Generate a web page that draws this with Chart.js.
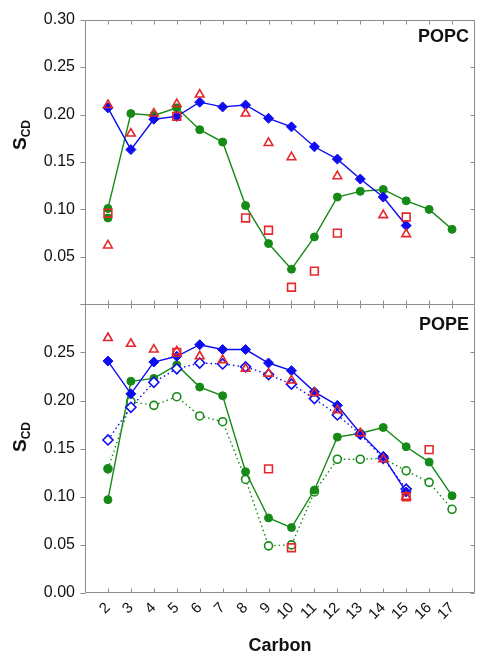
<!DOCTYPE html>
<html>
<head>
<meta charset="utf-8">
<script src="https://cdn.jsdelivr.net/npm/chart.js@4.4.0/dist/chart.umd.min.js"></script>
<style>
  html, body { margin: 0; padding: 0; background: #fff; }
  #wrap { width: 487px; height: 663px; }
</style>
</head>
<body>
<div id="wrap"><canvas id="chart" width="487" height="663"></canvas></div>
<script>
// Carbon positions along the acyl chain
const carbons = [2, 3, 4, 5, 6, 7, 8, 9, 10, 11, 12, 13, 14, 15, 16, 17];

// POPC panel
const popcBlue = [0.207, 0.163, 0.195, 0.198, 0.213, 0.208, 0.210, 0.196, 0.187, 0.166, 0.153, 0.132, 0.113, 0.083, null, null];
const popcGreen = [0.101, 0.201, 0.199, 0.207, 0.184, 0.171, 0.104, 0.064, 0.037, 0.071, 0.113, 0.119, 0.121, 0.109, 0.100, 0.079];
const popcGreenExtra = [0.091];
const popcTriangles = [0.210, 0.180, 0.201, 0.211, 0.221, null, 0.201, 0.170, 0.155, null, 0.135, null, 0.094, 0.074, null, null];
const popcTriangleExtra = [0.062];
const popcSquares = [0.096, null, null, 0.198, null, null, 0.091, 0.078, 0.018, 0.035, 0.075, null, null, 0.092, null, null];

// POPE panel
const popeBlue = [0.241, 0.207, 0.240, 0.246, 0.258, 0.253, 0.253, 0.239, 0.231, 0.209, 0.195, 0.166, 0.142, 0.105, null, null];
const popeBlueOpen = [0.159, 0.193, 0.219, 0.233, 0.239, 0.238, 0.235, 0.227, 0.217, 0.202, 0.185, 0.165, 0.140, 0.108, null, null];
const popeGreen = [0.097, 0.220, 0.223, 0.237, 0.214, 0.205, 0.126, 0.078, 0.068, 0.107, 0.162, 0.166, 0.172, 0.152, 0.136, 0.101];
const popeGreenOpen = [0.129, 0.199, 0.195, 0.204, 0.184, 0.178, 0.118, 0.049, 0.050, 0.105, 0.139, 0.139, 0.140, 0.127, 0.115, 0.087];
const popeTriangles = [0.265, 0.259, 0.253, 0.251, 0.246, 0.242, 0.233, 0.228, 0.221, 0.208, 0.190, 0.166, 0.139, 0.100, null, null];
const popeSquares = [null, null, null, 0.250, null, null, null, 0.129, 0.047, null, null, null, null, 0.100, 0.149, null];

const yTicks = [0, 0.05, 0.10, 0.15, 0.20, 0.25, 0.30];

const BLUE = '#0d0df0';
const GREEN = '#168a16';
const RED = '#e5262b';

function pts(values) {
    return values.map((v, i) => ({ x: carbons[i], y: v }));
}

function lineSet(values, axis, color, style, open, dashed, order) {
    return {
        data: pts(values), yAxisID: axis, order,
        borderColor: color, borderWidth: 1.4, borderDash: dashed ? [1.5, 3] : [],
        pointStyle: style, pointRadius: style === 'rectRot' ? 5 : 4,
        pointBorderColor: color, pointBorderWidth: open ? 1.6 : 1,
        pointBackgroundColor: open ? '#fff' : color,
        showLine: true, spanGaps: false
    };
}

function markerSet(values, axis, style, radius, order) {
    return {
        data: pts(values), yAxisID: axis, order, showLine: false,
        pointStyle: style, pointRadius: radius,
        pointBorderColor: RED, pointBorderWidth: 1.6, pointBackgroundColor: 'rgba(0,0,0,0)'
    };
}

const greenOpen = lineSet(popeGreenOpen, 'yBot', GREEN, 'circle', true, true, 6);
greenOpen.pointBackgroundColor = popeGreenOpen.map((v, i) => i === 0 ? GREEN : '#fff');

const datasets = [
    // POPC
    lineSet(popcGreen, 'yTop', GREEN, 'circle', false, false, 5),
    { data: pts(popcGreenExtra), yAxisID: 'yTop', order: 5, showLine: false, pointStyle: 'circle', pointRadius: 4, pointBackgroundColor: GREEN, pointBorderColor: GREEN },
    lineSet(popcBlue, 'yTop', BLUE, 'rectRot', false, false, 4),
    markerSet(popcTriangles, 'yTop', 'triangle', 5, 1),
    markerSet(popcTriangleExtra, 'yTop', 'triangle', 5, 1),
    markerSet(popcSquares, 'yTop', 'rect', 5.5, 2),
    // POPE
    greenOpen,
    lineSet(popeGreen, 'yBot', GREEN, 'circle', false, false, 5),
    lineSet(popeBlueOpen, 'yBot', BLUE, 'rectRot', true, true, 4),
    lineSet(popeBlue, 'yBot', BLUE, 'rectRot', false, false, 3),
    markerSet(popeTriangles, 'yBot', 'triangle', 5, 2),
    markerSet(popeSquares, 'yBot', 'rect', 5.5, 2)
];

const FONT = "'Liberation Sans', Arial, sans-serif";

// frame, tick marks, panel names and S_CD titles
const framePlugin = {
    id: 'frame',
    beforeDatasetsDraw(chart) {
        const { ctx, chartArea: a, scales } = chart;
        const x = scales.x, yT = scales.yTop, yB = scales.yBot;
        const L = Math.round(a.left) + 0.5, R = Math.round(a.right) - 0.5;
        const T = Math.round(a.top) + 0.5, B = Math.round(a.bottom) - 0.5;
        const M = Math.round(yT.bottom) + 0.5;
        ctx.save();
        ctx.strokeStyle = '#8c8c8c';
        ctx.lineWidth = 1;
        ctx.beginPath();
        ctx.rect(L, T, R - L, B - T);
        ctx.moveTo(L, M); ctx.lineTo(R, M);
        carbons.forEach(c => {
            const px = Math.round(x.getPixelForValue(c)) + 0.5;
            ctx.moveTo(px, T); ctx.lineTo(px, T + 4);
            ctx.moveTo(px, M - 4); ctx.lineTo(px, M + 4);
            ctx.moveTo(px, B); ctx.lineTo(px, B - 4);
        });
        [yT, yB].forEach(s => {
            yTicks.forEach(v => {
                const py = Math.round(s.getPixelForValue(v)) + 0.5;
                ctx.moveTo(L - 5, py); ctx.lineTo(L, py);
                ctx.moveTo(R, py); ctx.lineTo(R - 4, py);
            });
        });
        ctx.stroke();
        ctx.restore();
    },
    afterDraw(chart) {
        const { ctx, chartArea: a } = chart;
        ctx.save();
        ctx.fillStyle = '#111';
        ctx.font = 'bold 18px ' + FONT;
        ctx.textAlign = 'right';
        ctx.textBaseline = 'middle';
        ctx.fillText('POPC', a.right - 6, 37);
        ctx.fillText('POPE', a.right - 6, 325);
        [135, 437].forEach(cy => {
            ctx.save();
            ctx.translate(26, cy);
            ctx.rotate(-Math.PI / 2);
            ctx.textAlign = 'left';
            ctx.textBaseline = 'alphabetic';
            ctx.font = 'bold 19px ' + FONT;
            const w1 = ctx.measureText('S').width;
            ctx.font = 'bold 12px ' + FONT;
            const w2 = ctx.measureText('CD').width;
            const start = -(w1 + w2) / 2;
            ctx.font = 'bold 19px ' + FONT;
            ctx.fillText('S', start, 0);
            ctx.font = 'bold 12px ' + FONT;
            ctx.fillText('CD', start + w1, 4);
            ctx.restore();
        });
        ctx.restore();
    }
};

const yAxis = (weight, hideTop) => ({
    type: 'linear', position: 'left', stack: 'panels', stackWeight: weight,
    weight: hideTop ? 1 : 2,
    min: 0, max: 0.30,
    afterFit: s => { s.width = 85; },
    grid: { display: false, drawTicks: false },
    border: { display: false },
    ticks: {
        stepSize: 0.05, padding: 10, color: '#111',
        font: { family: FONT, size: 16 },
        callback: v => {
            if (!hideTop && Math.abs(v) < 1e-9) return '';
            if (hideTop && v > 0.29) return '';
            return v.toFixed(2);
        }
    }
});

new Chart(document.getElementById('chart'), {
    type: 'line',
    data: { datasets },
    options: {
        responsive: false, animation: false,
        layout: { padding: { top: 19, right: 12, left: 0, bottom: 0 } },
        plugins: { legend: { display: false }, tooltip: { enabled: false } },
        scales: {
            x: {
                type: 'linear', min: 1, max: 18,
                afterFit: s => { s.height = 70; s.paddingLeft = 0; s.paddingRight = 0; },
                grid: { display: false, drawTicks: false },
                border: { display: false },
                ticks: {
                    stepSize: 1, autoSkip: false, minRotation: 45, maxRotation: 45, padding: 6,
                    color: '#111', font: { family: FONT, size: 15 },
                    callback: v => (v >= 2 && v <= 17) ? String(v) : ''
                },
                title: { display: true, text: 'Carbon', color: '#111', font: { family: FONT, size: 18, weight: 'bold' }, padding: { top: 0, bottom: 6 } }
            },
            yBot: yAxis(289, true),
            yTop: yAxis(285, false)
        }
    },
    plugins: [framePlugin]
});
</script>
</body>
</html>
